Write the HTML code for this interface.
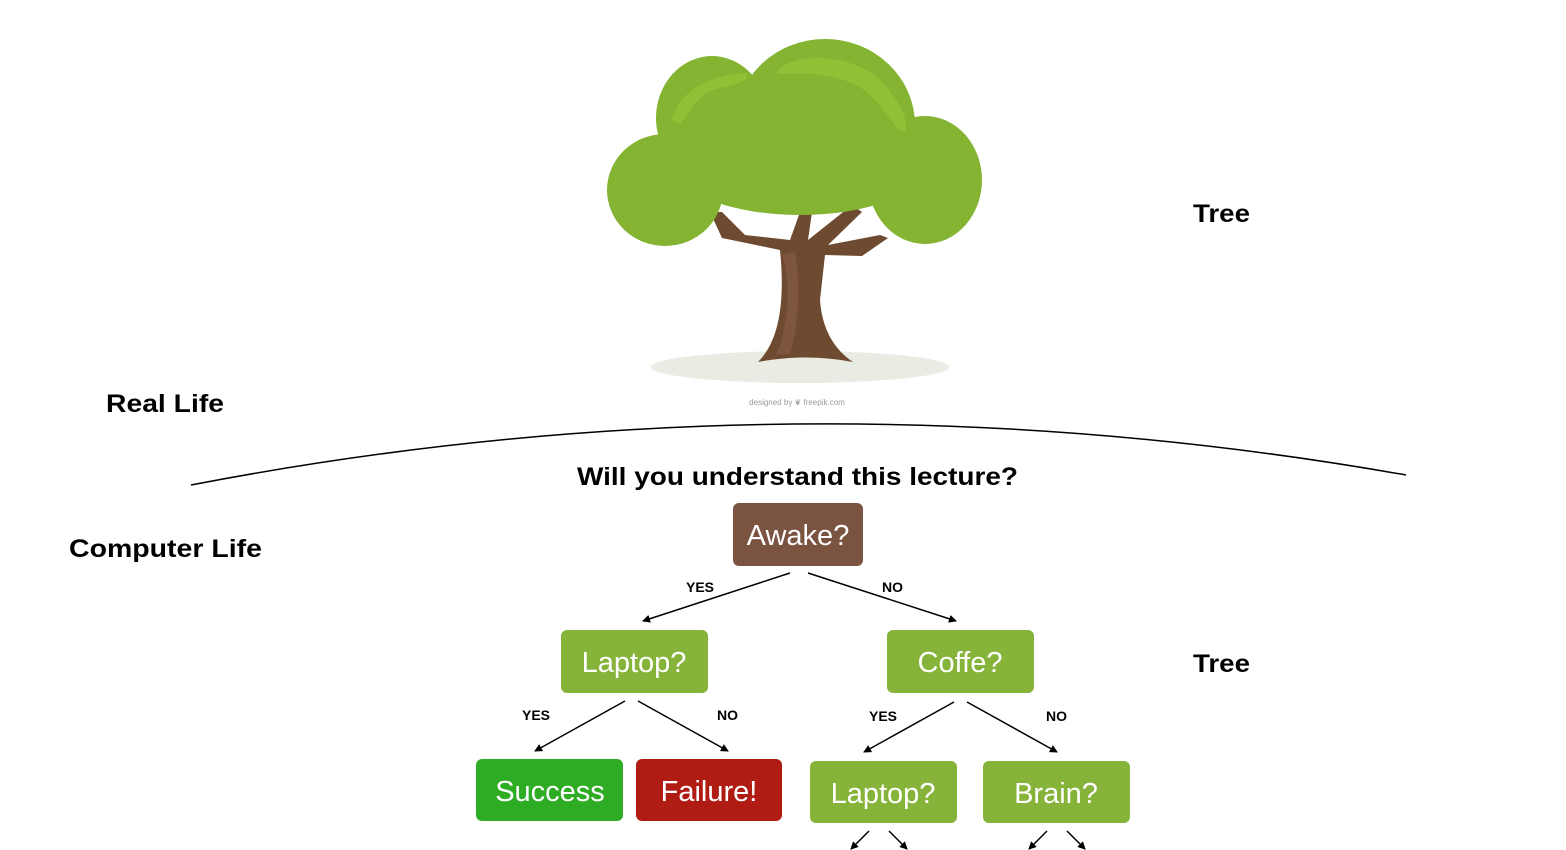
<!DOCTYPE html>
<html><head><meta charset="utf-8"><style>
html,body{margin:0;padding:0;background:#fff;}
svg{display:block;font-family:"Liberation Sans",sans-serif;}
</style></head><body>
<svg width="1566" height="850" viewBox="0 0 1566 850" xmlns="http://www.w3.org/2000/svg">
<defs><marker id="a" markerWidth="8" markerHeight="8" refX="7" refY="4" orient="auto" markerUnits="userSpaceOnUse"><path d="M0,0 L8,4 L0,8 z" fill="#000"/></marker></defs>
<!-- tree -->
<ellipse cx="800" cy="367" rx="149" ry="16" fill="#e9ece3"/>
<path d="M758,362 C780,340 785,300 780,250 L722,238 L710,212 L722,212 L745,235 L790,240 L800,212 L812,212 L808,240 L852,205 L862,212 L828,245 L880,235 L888,238 L862,256 L825,255 L820,300 C822,330 835,350 853,362 C820,356 790,356 758,362 Z" fill="#6e4a30"/>
<path d="M782,255 C792,280 788,330 776,355 L790,354 C800,320 800,280 795,252 Z" fill="#7d5540"/>
<g fill="#84b431">
<ellipse cx="665" cy="190" rx="58" ry="56"/>
<ellipse cx="712" cy="118" rx="56" ry="62"/>
<ellipse cx="825" cy="125" rx="90" ry="86"/>
<ellipse cx="925" cy="180" rx="57" ry="64"/>
<ellipse cx="800" cy="170" rx="120" ry="45"/>
</g>
<path d="M672,120 C680,90 710,75 745,73 C752,78 740,85 720,88 C700,92 690,110 680,125 Z" fill="#8fc136"/>
<path d="M778,70 C800,50 860,55 885,85 C898,100 910,120 905,132 C895,130 885,110 870,95 C850,75 810,72 778,74 Z" fill="#8fc136"/>
<text x="797" y="405" font-size="8" fill="#999" text-anchor="middle">designed by ❦ freepik.com</text>
<!-- labels -->
<g font-weight="bold" font-size="25" fill="#000">
<text x="1193" y="222" textLength="57" lengthAdjust="spacingAndGlyphs">Tree</text>
<text x="1193" y="672" textLength="57" lengthAdjust="spacingAndGlyphs">Tree</text>
<text x="106" y="412" textLength="118" lengthAdjust="spacingAndGlyphs">Real Life</text>
<text x="69" y="557" textLength="193" lengthAdjust="spacingAndGlyphs">Computer Life</text>
<text x="577" y="485" textLength="441" lengthAdjust="spacingAndGlyphs">Will you understand this lecture?</text>
</g>
<path d="M191,485 Q800,368 1406,475" stroke="#000" stroke-width="1.5" fill="none"/>
<!-- boxes -->
<g font-size="29" fill="#fff" text-anchor="middle">
<rect x="733" y="503" width="130" height="63" rx="6" fill="#7b5341"/><text x="798" y="545" fill="#fff">Awake?</text>
<rect x="561" y="630" width="147" height="63" rx="6" fill="#86b33a"/><text x="634" y="672" fill="#fff">Laptop?</text>
<rect x="887" y="630" width="147" height="63" rx="6" fill="#86b33a"/><text x="960" y="672" fill="#fff">Coffe?</text>
<rect x="476" y="759" width="147" height="62" rx="6" fill="#2ead24"/><text x="550" y="801" fill="#fff">Success</text>
<rect x="636" y="759" width="146" height="62" rx="6" fill="#b01c14"/><text x="709" y="801" fill="#fff">Failure!</text>
<rect x="810" y="761" width="147" height="62" rx="6" fill="#86b33a"/><text x="883" y="803" fill="#fff">Laptop?</text>
<rect x="983" y="761" width="147" height="62" rx="6" fill="#86b33a"/><text x="1056" y="803" fill="#fff">Brain?</text>
</g>
<g stroke="#000" stroke-width="1.5" marker-end="url(#a)">
<line x1="790" y1="573" x2="643" y2="621"/><line x1="808" y1="573" x2="956" y2="621"/>
<line x1="625" y1="701" x2="535" y2="751"/><line x1="638" y1="701" x2="728" y2="751"/>
<line x1="954" y1="702" x2="864" y2="752"/><line x1="967" y1="702" x2="1057" y2="752"/>
<line x1="869" y1="831" x2="851" y2="849"/><line x1="889" y1="831" x2="907" y2="849"/>
<line x1="1047" y1="831" x2="1029" y2="849"/><line x1="1067" y1="831" x2="1085" y2="849"/>
</g>
<g font-size="14" font-weight="bold" fill="#000">
<text x="686" y="592">YES</text><text x="882" y="592">NO</text>
<text x="522" y="720">YES</text><text x="717" y="720">NO</text>
<text x="869" y="721">YES</text><text x="1046" y="721">NO</text>
</g>
</svg>
</body></html>
